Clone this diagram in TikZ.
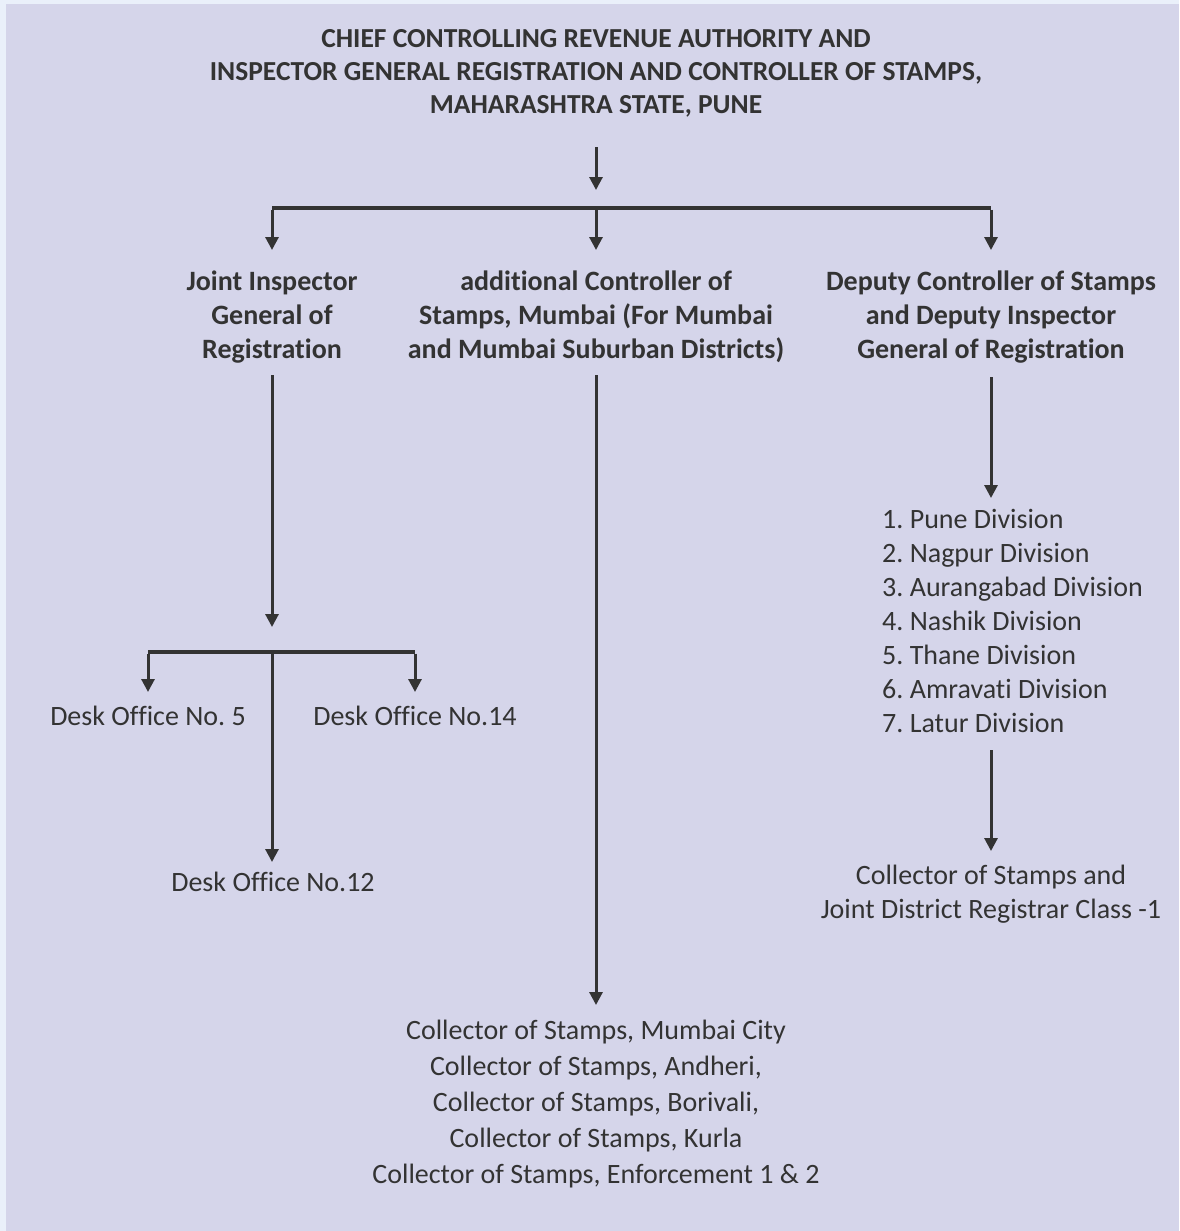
\documentclass[tikz,border=0pt]{standalone}
\usepackage{fontspec}
\setmainfont{Carlito}[Ligatures=NoCommon]
\usepackage{xcolor}
\usetikzlibrary{arrows.meta}
\definecolor{pagebg}{HTML}{EAF0FA}
\definecolor{panelbg}{HTML}{D5D5EA}
\definecolor{ink}{HTML}{333333}
\frenchspacing

\begin{document}
\begin{tikzpicture}[x=1pt, y=-1pt,
    link/.style={ink, line width=3pt, -{Triangle[width=13pt,length=13pt]}},
    bar/.style={ink, line width=3.5pt},
    head/.style={ink, align=center, font=\fontsize{27.5}{33}\selectfont\bfseries},
    post/.style={ink, align=center, font=\fontsize{28}{34}\selectfont\bfseries},
    office/.style={ink, align=center, font=\fontsize{28}{34}\selectfont},
    offlist/.style={ink, align=left, font=\fontsize{28}{34}\selectfont}]
          \fill [pagebg] (0,0) rectangle (1179,1231);
          \fill [panelbg] (6,4) rectangle (1179,1231);
          \useasboundingbox (0,0) rectangle (1179,1231);
          \node [head] (CCRA) at (596,73) {CHIEF CONTROLLING REVENUE AUTHORITY AND\\INSPECTOR GENERAL REGISTRATION AND CONTROLLER OF STAMPS,\\MAHARASHTRA STATE, PUNE};
          \coordinate (T1) at (596,147);
          \coordinate (T2) at (596,190);
          \coordinate (BL) at (272,208);
          \coordinate (BM) at (596,208);
          \coordinate (BR) at (991,208);
          \coordinate (EL) at (272,250);
          \coordinate (EM) at (596,250);
          \coordinate (ER) at (991,250);
          \node [post] (JIG) at (272,317) {Joint Inspector\\General of\\Registration};
          \node [post] (ACS) at (596,317) {additional Controller of\\Stamps, Mumbai (For Mumbai\\and Mumbai Suburban Districts)};
          \node [post] (DCS) at (991,317) {Deputy Controller of Stamps\\and Deputy Inspector\\General of Registration};
          % left branch
          \coordinate (L1) at (272,375);
          \coordinate (L2) at (272,627);
          \coordinate (SL) at (148,652);
          \coordinate (SM) at (272,652);
          \coordinate (SR) at (415,652);
          \coordinate (S5) at (148,692);
          \coordinate (S14) at (415,692);
          \coordinate (S12) at (272,862);
          \node [office] (DO5) at (148,716) {Desk Office No. 5};
          \node [office] (DO14) at (415,716) {Desk Office No.14};
          \node [office] (DO12) at (273,882) {Desk Office No.12};
          % middle branch
          \coordinate (M1) at (596,375);
          \coordinate (M2) at (596,1005);
          \node [office, font=\fontsize{28}{36}\selectfont] (COS) at (596,1104) {Collector of Stamps, Mumbai City\\Collector of Stamps, Andheri,\\Collector of Stamps, Borivali,\\Collector of Stamps, Kurla\\Collector of Stamps, Enforcement 1 \& 2};
          % right branch
          \coordinate (R1) at (991,377);
          \coordinate (R2) at (991,498);
          \node [offlist, anchor=west, inner xsep=0pt] (DIV) at (882,621) {1. Pune Division\\2. Nagpur Division\\3. Aurangabad Division\\4. Nashik Division\\5. Thane Division\\6. Amravati Division\\7. Latur Division};
          \coordinate (R3) at (991,750);
          \coordinate (R4) at (991,851);
          \node [office] (CJR) at (991,894) {Collector of Stamps and\\Joint District Registrar Class -1};
          \draw [link] (T1) -- (T2);
          \draw [bar] (BL) -- (BR);
          \draw [link] ([yshift=-1.5pt]BL) -- (EL);
          \draw [link] (BM) -- (EM);
          \draw [link] ([yshift=-1.5pt]BR) -- (ER);
          \draw [link] (L1) -- (L2);
          \draw [bar] (SL) -- (SR);
          \draw [link] ([yshift=-1.5pt]SL) -- (S5);
          \draw [link] ([yshift=-1.5pt]SR) -- (S14);
          \draw [link] (SM) -- (S12);
          \draw [link] (M1) -- (M2);
          \draw [link] (R1) -- (R2);
          \draw [link] (R3) -- (R4);
        \end{tikzpicture}
\end{document}
